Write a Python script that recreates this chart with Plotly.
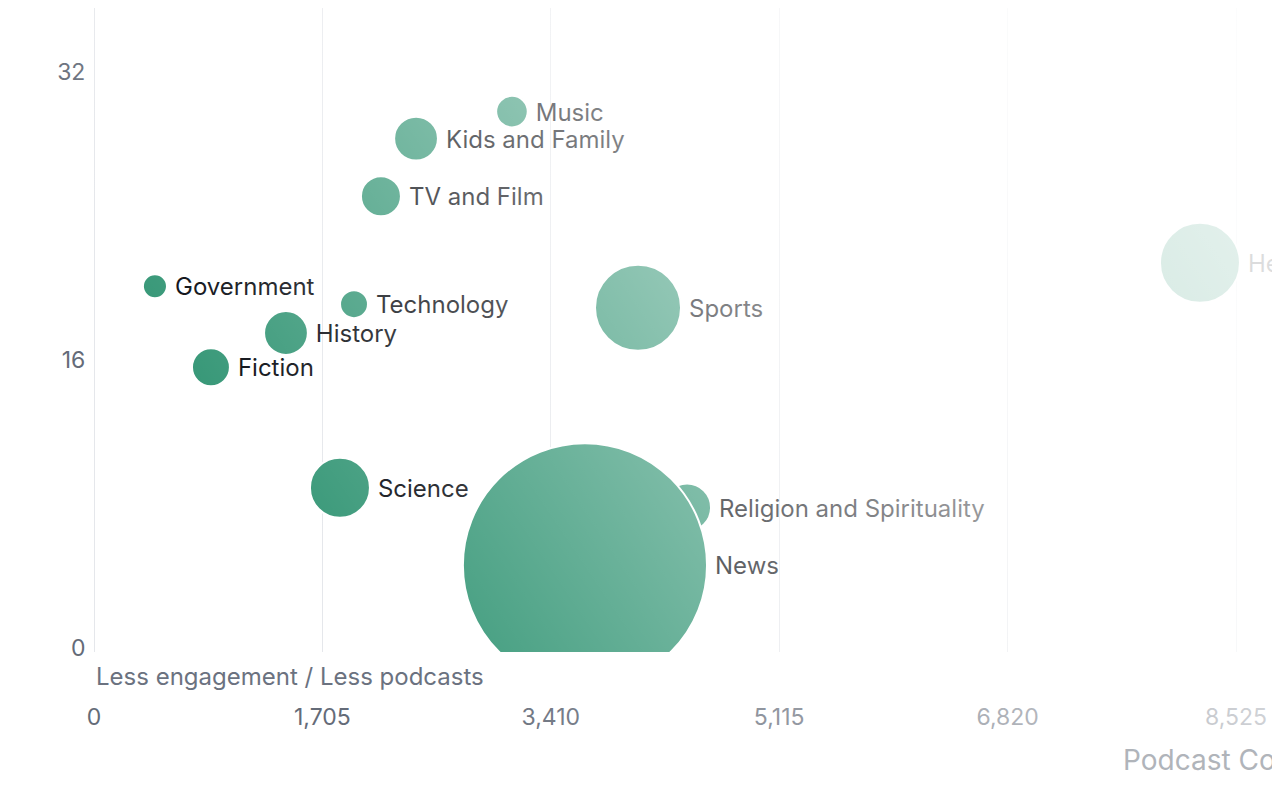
import base64
import math
import plotly.graph_objects as go

# podcast categories: count of podcasts (x), engagement (y), audience size (bubble area)
categories = ["Government", "Fiction", "History", "Technology", "TV and Film",
              "Kids and Family", "Music", "Science", "Sports", "Religion and Spirituality",
              "Health & Fitness", "News"]
podcast_count = [455, 873, 1433, 1941, 2142, 2404, 3120, 1836, 4061, 4427, 8256, 3665]
engagement = [20.1, 15.6, 17.5, 19.1, 25.1, 28.3, 29.8, 8.9, 18.9, 7.8, 21.4, 4.6]
audience = [145, 360, 480, 195, 400, 480, 250, 900, 1850, 575, 1600, 14900]

x_ticks = [0, 1705, 3410, 5115, 6820, 8525]
y_ticks = [0, 16, 32]

W, H = 1280, 800
PAGE_OFFSET = 8          # default body margin of the html page
ML, MR, MT, MB = 86, 0, 0, 156
PW, PH = W - ML - MR, H - MT - MB
PX_PER_UNIT = 228.4 / 1705
PX_PER_Y = 18.0
X_MAX = PW / PX_PER_UNIT
Y_RANGE = [-0.222, 35.556]
SIZEREF = 0.5

GREEN = "#389878"
TEXT = "#0b0e14"
MUTED = "#646b78"
GRID = "#e5e7eb"
FONT = "Inter"

# white fade over the chart, growing to the right and upwards:
# alpha = FADE_X*px - FADE_Y*py + FADE_C (screen pixels), flattened near the top
FADE_X = 0.00082
FADE_Y = 0.00055
FADE_C = 0.0505
FADE_STOPS = [(0, 0), (0.8, 0.8), (1, 0.88)]


def paper_pos(sx, sy):
    fx, fy = sx - PAGE_OFFSET, sy - PAGE_OFFSET
    return (fx - ML) / PW, (PH - (fy - MT)) / PH


# label positions: right of each bubble, in data units
radius = [math.sqrt(v / (2 * SIZEREF)) for v in audience]
label_x = [x + (r + 8) / PX_PER_UNIT for x, r in zip(podcast_count, radius)]
label_y = [y - 3 / PX_PER_Y for y in engagement]

fig = go.Figure()
fig.add_trace(go.Scatter(
    x=podcast_count, y=engagement, mode="markers",
    marker=dict(size=audience, sizemode="area", sizeref=SIZEREF, color=GREEN,
                opacity=1, line=dict(color="white", width=2)),
    hovertext=categories, hoverinfo="text+x+y",
))
fig.add_trace(go.Scatter(
    x=label_x, y=label_y, mode="text", text=categories,
    textposition="middle right",
    textfont=dict(family=FONT, size=24, color=TEXT),
    hoverinfo="skip",
))

# gradient overlay (svg, figure pixels) drawn above the plot
cx, cy = W / 2 + PAGE_OFFSET, H / 2 + PAGE_OFFSET
a_c = FADE_X * cx - FADE_Y * cy + FADE_C
g2 = FADE_X ** 2 + FADE_Y ** 2
t0, t1 = -a_c / g2, (1 - a_c) / g2
p0 = (cx + t0 * FADE_X - PAGE_OFFSET, cy - t0 * FADE_Y - PAGE_OFFSET)
p1 = (cx + t1 * FADE_X - PAGE_OFFSET, cy - t1 * FADE_Y - PAGE_OFFSET)
stops = "".join('<stop offset="%g" stop-color="#fff" stop-opacity="%g"/>' % s for s in FADE_STOPS)
svg = ('<svg xmlns="http://www.w3.org/2000/svg" width="%d" height="%d" viewBox="0 0 %d %d" '
       'preserveAspectRatio="none"><defs><linearGradient id="f" gradientUnits="userSpaceOnUse" '
       'x1="%.1f" y1="%.1f" x2="%.1f" y2="%.1f">%s</linearGradient></defs>'
       '<rect width="%d" height="%d" fill="url(#f)"/></svg>') % (
    W, H, W, H, p0[0], p0[1], p1[0], p1[1], stops, W, H)
src = "data:image/svg+xml;base64," + base64.b64encode(svg.encode()).decode()

fig.add_layout_image(dict(
    source=src, xref="paper", yref="paper",
    x=-ML / PW, y=1 + MT / PH, sizex=W / PW, sizey=H / PH,
    xanchor="left", yanchor="top", sizing="stretch", layer="above",
))

ax, ay = paper_pos(94, 676)
fig.add_annotation(
    text="Less engagement / Less podcasts", xref="paper", yref="paper",
    x=ax, y=ay, xanchor="left", yanchor="middle", showarrow=False,
    font=dict(family=FONT, size=24, color="#6b7280"),
)
tx, ty = paper_pos(1121, 760)
fig.add_annotation(
    text="Podcast Count", xref="paper", yref="paper",
    x=tx, y=ty, xanchor="left", yanchor="middle", showarrow=False,
    font=dict(family=FONT, size=28, color="#b0b4ba"),
)

fig.update_layout(
    width=W, height=H,
    margin=dict(l=ML, r=MR, t=MT, b=MB),
    paper_bgcolor="white", plot_bgcolor="white",
    showlegend=False,
    font=dict(family=FONT, color=MUTED),
    xaxis=dict(
        range=[0, X_MAX], tickvals=x_ticks, tickformat=",",
        showgrid=True, gridcolor=GRID, gridwidth=1,
        zeroline=True, zerolinecolor=GRID, zerolinewidth=1,
        showline=False, ticks="outside", ticklen=44, tickcolor="rgba(0,0,0,0)",
        tickfont=dict(family=FONT, size=23, color=MUTED),
    ),
    yaxis=dict(
        range=Y_RANGE, tickvals=y_ticks,
        showgrid=False, zeroline=False, showline=False,
        ticks="outside", ticklen=3, tickcolor="rgba(0,0,0,0)",
        tickfont=dict(family=FONT, size=23, color=MUTED),
    ),
)

fig.write_html("out.html")
